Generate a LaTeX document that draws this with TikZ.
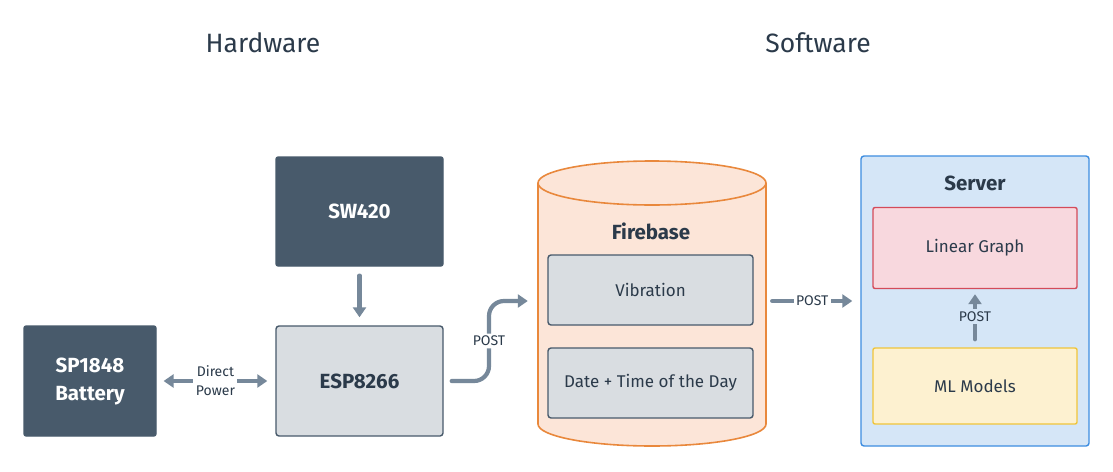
\documentclass[tikz,border=0pt]{standalone}
\usepackage{fontspec}
\setmainfont{Fira Sans}
\usetikzlibrary{arrows.meta}
\definecolor{slate}{HTML}{485A6B}
\definecolor{txt}{HTML}{2B3A4A}
\definecolor{lgray}{HTML}{D9DDE1}
\definecolor{arr}{HTML}{76889A}
\definecolor{cylfill}{HTML}{FCE5D8}
\definecolor{cyldraw}{HTML}{E9883C}
\definecolor{srvfill}{HTML}{D5E6F7}
\definecolor{srvdraw}{HTML}{3D8DE0}
\definecolor{redfill}{HTML}{F8D8DE}
\definecolor{reddraw}{HTML}{D44B5A}
\definecolor{yelfill}{HTML}{FDF1D0}
\definecolor{yeldraw}{HTML}{F0C53A}
\tikzset{
  boldtxt/.style={font=\bfseries\fontsize{20.5}{28}\selectfont},
  regtxt/.style={font=\fontsize{17}{20}\selectfont},
  darkbox/.style={fill=slate, draw=slate, rounded corners=2pt, line width=1.2pt, text=white, boldtxt, align=center, inner sep=0},
  lightbox/.style={fill=lgray, draw=slate, rounded corners=3pt, line width=1.4pt, text=txt, align=center, inner sep=0},
  conn/.style={draw=arr, line width=4.2pt, line cap=round, -{Triangle[length=10pt,width=13pt]}},
  lbl/.style={text=txt, font=\fontsize{14}{19}\selectfont, inner sep=2.5pt, align=center},
  title/.style={text=txt, font=\fontsize{26.5}{30}\selectfont},
}
\begin{document}
\begin{tikzpicture}[x=1pt,y=-1pt]
\useasboundingbox[fill=white] (0,0) rectangle (1113,471);
% titles
\node[title] (hw) at (263,43) {Hardware};
\node[title] (sw) at (818,43) {Software};
% hardware
\node[darkbox, minimum width=167, minimum height=109] (sw420) at (359.5,211.5) {SW420};
\node[lightbox, minimum width=167, minimum height=110, boldtxt] (esp) at (359.5,381) {ESP8266};
\node[darkbox, minimum width=132, minimum height=110] (bat) at (90,381) {SP1848\\Battery};
% firebase cylinder
\node[minimum width=228, minimum height=285, inner sep=0] (fb) at (652,303.5) {};
\fill[cylfill] (538,183) -- (538,424) arc[start angle=180,end angle=0,x radius=114,y radius=22] -- (766,183) arc[start angle=360,end angle=180,x radius=114,y radius=22] -- cycle;
\draw[cyldraw, line width=1.6pt] (538,183) -- (538,424) arc[start angle=180,end angle=0,x radius=114,y radius=22] -- (766,183);
\draw[cyldraw, line width=1.6pt] (652,183) ellipse[x radius=114,y radius=22];
\node[text=txt, boldtxt] (fbt) at (651,231) {Firebase};
\node[lightbox, minimum width=205, minimum height=70, regtxt] (vib) at (650.5,290) {Vibration};
\node[lightbox, minimum width=205, minimum height=70, regtxt] (date) at (650.5,383) {Date + Time of the Day};
% server
\node[fill=srvfill, draw=srvdraw, line width=1.4pt, rounded corners=3pt, minimum width=228, minimum height=290, inner sep=0] (srv) at (975,301) {};
\node[text=txt, boldtxt] (srvt) at (975,183) {Server};
\node[fill=redfill, draw=reddraw, line width=1.4pt, rounded corners=2pt, minimum width=204, minimum height=81, inner sep=0, text=txt, regtxt] (lg) at (975,248) {Linear Graph};
\node[fill=yelfill, draw=yeldraw, line width=1.4pt, rounded corners=2pt, minimum width=204, minimum height=76, inner sep=0, text=txt, regtxt] (ml) at (975,386) {ML Models};
% connectors
\draw[conn] ([yshift=-9]sw420.south) -- ([yshift=8]esp.north);
\draw[conn, {Triangle[length=10pt,width=13pt]}-{Triangle[length=10pt,width=13pt]}] ([xshift=7]bat.east) -- node[lbl, fill=white] {Direct\\Power} ([xshift=-8]esp.west);
\draw[conn, rounded corners=15pt] ([xshift=8]esp.east) -- (489,381) -- node[lbl, fill=white, pos=0.5] {POST} (489,301) -- ([xshift=-10]fb.west |- 0,301);
\draw[conn] ([xshift=6]fb.east |- 0,301) -- node[lbl, fill=white] {POST} ([xshift=-8]srv.west |- 0,301);
\draw[conn] ([yshift=8]ml.north) -- node[lbl, fill=srvfill] {POST} ([yshift=-5]lg.south);
\end{tikzpicture}
\end{document}
